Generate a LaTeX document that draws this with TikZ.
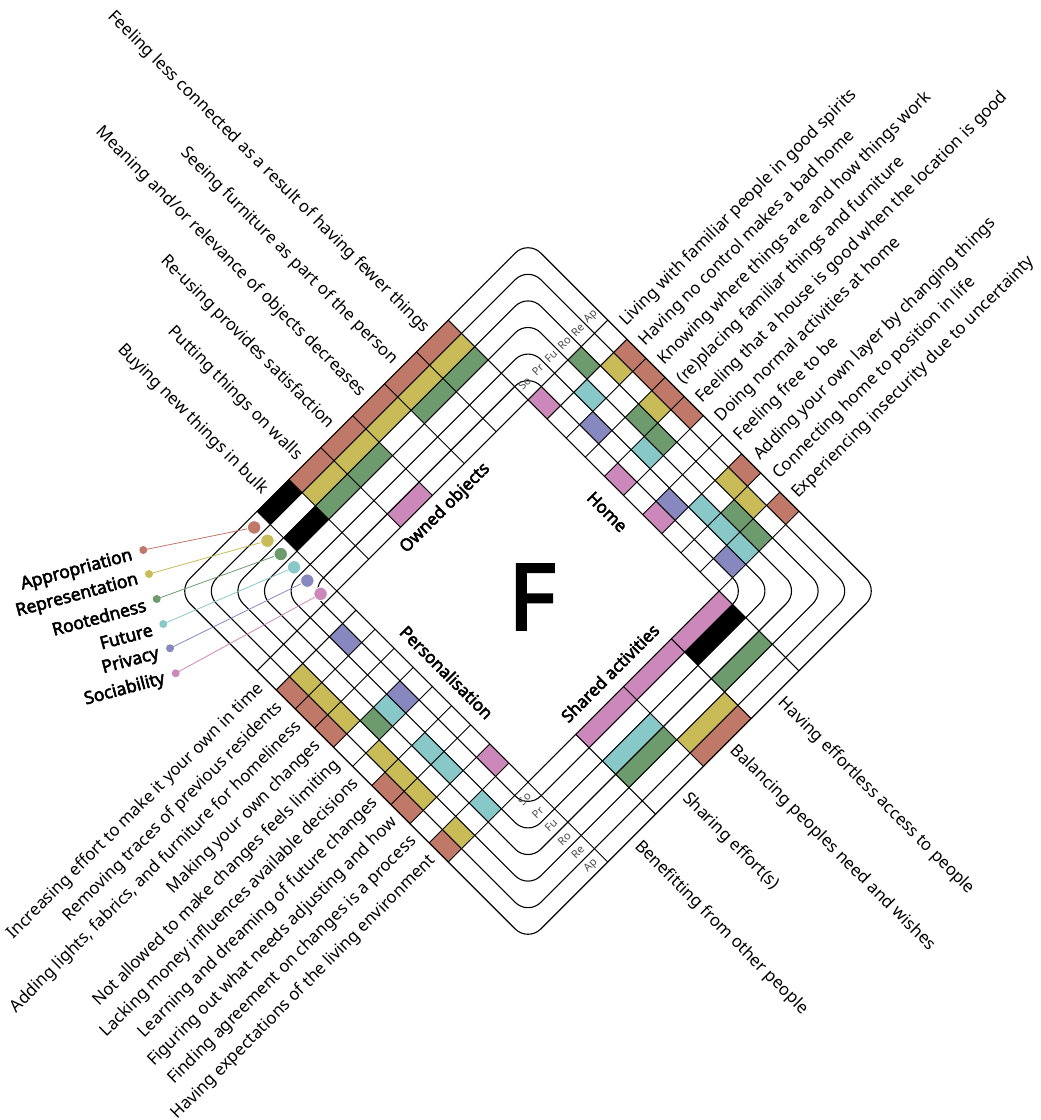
\documentclass[tikz,border=0pt]{standalone}
\usepackage{fontspec}
\setmainfont{Noto Sans}[AutoFakeBold=3]
\definecolor{apc}{HTML}{C07868}
\definecolor{rec}{HTML}{C8BB58}
\definecolor{roc}{HTML}{6E9B6E}
\definecolor{fuc}{HTML}{88C8C8}
\definecolor{prc}{HTML}{8888C0}
\definecolor{soc}{HTML}{CC88BB}
\newcommand\bandvals[1]{%
  \pgfmathsetmacro\rOut{248-18.8*(#1-1)}%
  \pgfmathsetmacro\rIn{248-18.8*#1}}
\newcommand\colvals[2]{%
  \pgfmathsetmacro\cA{-135.2+#2*(#1-1)}%
  \pgfmathsetmacro\cB{-135.2+#2*#1}}
\begin{document}
\begin{tikzpicture}[x=1pt,y=1pt,
  ringline/.style={line width=1.1pt},
  gridline/.style={line width=1pt},
  stmt/.style={font=\fontsize{16.9}{18}\selectfont, inner sep=0pt},
  cat/.style={font=\fontsize{17}{18}\selectfont\bfseries, inner sep=0pt},
  bandlab/.style={font=\fontsize{11}{12}\selectfont, text=black!70, inner sep=0pt, rotate=45},
  legendlab/.style={font=\fontsize{17.5}{19}\selectfont\bfseries, inner sep=0pt, rotate=15, anchor=east},
  bigdot/.style={draw=white, line width=0.8pt},
  legline/.style={line width=0.8pt},
]
\useasboundingbox (0,0) rectangle (1041,-1120);
\begin{scope}[shift={(528,-591)}, x={(0.70711pt,0.70711pt)}, y={(0.70711pt,-0.70711pt)}]
  % ---- Home cells (top right)
  \foreach \k/\j/\c in {1/2/apc,1/3/apc,1/4/apc,1/5/apc,1/8/apc,1/10/apc,
      2/2/rec,2/4/rec,2/8/rec,2/9/rec,
      3/1/roc,3/4/roc,3/5/roc,3/9/roc,3/10/roc,
      4/2/fuc,4/5/fuc,4/8/fuc,4/9/fuc,4/10/fuc,
      5/3/prc,5/7/prc,5/10/prc,
      6/1/soc,6/5/soc,6/7/soc}{
    \bandvals{\k}\colvals{\j}{27.04}
    \fill[\c] (\rIn,\cA) -- (\rOut,\cA) -- (\rOut,\cB) -- (\rIn,\cB) -- cycle;
  }
  % ---- Owned objects cells (top left)
  \foreach \k/\j/\c in {1/1/black,1/2/apc,1/3/apc,1/4/apc,1/5/apc,1/6/apc,
      2/2/rec,2/3/rec,2/4/rec,2/5/rec,2/6/rec,
      3/1/black,3/2/roc,3/3/roc,3/5/roc,3/6/roc,
      6/3/soc}{
    \bandvals{\k}\colvals{\j}{45.0667}
    \fill[\c] (\cA,-\rOut) -- (\cB,-\rOut) -- (\cB,-\rIn) -- (\cA,-\rIn) -- cycle;
  }
  % ---- Shared activities cells (bottom right)
  \foreach \k/\j/\c in {1/3/apc,2/3/rec,3/2/roc,3/4/roc,4/2/fuc,5/4/black,
      6/2/soc,6/3/soc,6/4/soc}{
    \bandvals{\k}\colvals{\j}{67.6}
    \fill[\c] (\cA,\rIn) -- (\cB,\rIn) -- (\cB,\rOut) -- (\cA,\rOut) -- cycle;
  }
  % ---- Personalisation cells (bottom left)
  \foreach \k/\j/\c in {1/2/apc,1/3/apc,1/4/apc,1/7/apc,1/8/apc,1/10/apc,
      2/2/rec,2/3/rec,2/4/rec,2/6/rec,2/7/rec,2/8/rec,2/10/rec,
      3/5/roc,
      4/5/fuc,4/7/fuc,4/8/fuc,4/10/fuc,
      5/2/prc,5/5/prc,
      6/9/soc}{
    \bandvals{\k}\colvals{\j}{27.04}
    \fill[\c] (-\rOut,\cA) -- (-\rIn,\cA) -- (-\rIn,\cB) -- (-\rOut,\cB) -- cycle;
  }
  % ---- grid lines
  \foreach \j in {0,...,10}{
    \pgfmathsetmacro\cc{-135.2+27.04*\j}
    \draw[gridline] (135.2,\cc) -- (248,\cc);
    \draw[gridline] (-248,\cc) -- (-135.2,\cc);
  }
  \foreach \j in {0,...,6}{
    \pgfmathsetmacro\cc{-135.2+45.0667*\j}
    \draw[gridline] (\cc,-248) -- (\cc,-135.2);
  }
  \foreach \j in {0,...,4}{
    \pgfmathsetmacro\cc{-135.2+67.6*\j}
    \draw[gridline] (\cc,135.2) -- (\cc,248);
  }
  % ---- rings
  \foreach \k in {0,...,5}{
    \pgfmathsetmacro\sS{248-18.8*\k}
    \draw[ringline, rounded corners=18pt] (0,-\sS) -- (\sS,-\sS) -- (\sS,\sS) -- (-\sS,\sS) -- (-\sS,-\sS) -- cycle;
  }
  \draw[ringline] (-135.2,-135.2) -- (135.2,-135.2) -- (135.2,135.2) -- (-135.2,135.2) -- cycle;
  % ---- band labels and legend anchors
  \foreach \k/\t in {1/Ap,2/Re,3/Ro,4/Fu,5/Pr,6/So}{
    \pgfmathsetmacro\bc{248-18.8*(\k-0.5)}
    \node[bandlab] (tl\k) at (\bc,-149.5) {\t};
    \node[bandlab] (bl\k) at (-149.5,\bc) {\t};
    \coordinate (bd\k) at (-148.7,-\bc);
  }
  % ---- category labels
  \node[cat, rotate=45] (catO) at (0,-117) {Owned objects};
  \node[cat, rotate=-45] (catH) at (112,0) {Home};
  \node[cat, rotate=45] (catS) at (0,116) {Shared activities};
  \node[cat, rotate=-45] (catP) at (-115,0) {Personalisation};
  % ---- Home statements
  \node[stmt, rotate=45, anchor=west] (h1) at (256,-121.68) {Living with familiar people in good spirits};
  \node[stmt, rotate=45, anchor=west] (h2) at (256,-94.64) {Having no control makes a bad home};
  \node[stmt, rotate=45, anchor=west] (h3) at (256,-67.60) {Knowing where things are and how things work};
  \node[stmt, rotate=45, anchor=west] (h4) at (256,-40.56) {(re)placing familiar things and furniture};
  \node[stmt, rotate=45, anchor=west] (h5) at (256,-13.52) {Feeling that a house is good when the location is good};
  \node[stmt, rotate=45, anchor=west] (h6) at (256,13.52) {Doing normal activities at home};
  \node[stmt, rotate=45, anchor=west] (h7) at (256,40.56) {Feeling free to be};
  \node[stmt, rotate=45, anchor=west] (h8) at (256,67.60) {Adding your own layer by changing things};
  \node[stmt, rotate=45, anchor=west] (h9) at (256,94.64) {Connecting home to position in life};
  \node[stmt, rotate=45, anchor=west] (h10) at (256,121.68) {Experiencing insecurity due to uncertainty};
  % ---- Owned objects statements
  \node[stmt, rotate=-45, anchor=east] (o1) at (-116,-256) {Buying new things in bulk};
  \node[stmt, rotate=-45, anchor=east] (o2) at (-67.6,-256) {Putting things on walls};
  \node[stmt, rotate=-45, anchor=east] (o3) at (-22.53,-256) {Re-using provides satisfaction};
  \node[stmt, rotate=-45, anchor=east] (o4) at (22.53,-256) {Meaning and/or relevance of objects decreases};
  \node[stmt, rotate=-45, anchor=east] (o5) at (67.6,-256) {Seeing furniture as part of the person};
  \node[stmt, rotate=-45, anchor=east] (o6) at (112.67,-256) {Feeling less connected as a result of having fewer things};
  % ---- Shared activities statements
  \node[stmt, rotate=-45, anchor=west] (s1) at (-101.4,256) {Benefitting from other people};
  \node[stmt, rotate=-45, anchor=west] (s2) at (-33.8,256) {Sharing effort(s)};
  \node[stmt, rotate=-45, anchor=west] (s3) at (33.8,256) {Balancing peoples need and wishes};
  \node[stmt, rotate=-45, anchor=west] (s4) at (101.4,256) {Having effortless access to people};
  % ---- Personalisation statements
  \node[stmt, rotate=45, anchor=east] (p1) at (-256,-121.68) {Increasing effort to make it your own in time};
  \node[stmt, rotate=45, anchor=east] (p2) at (-256,-94.64) {Removing traces of previous residents};
  \node[stmt, rotate=45, anchor=east] (p3) at (-256,-67.60) {Adding lights, fabrics, and furniture for homeliness};
  \node[stmt, rotate=45, anchor=east] (p4) at (-256,-40.56) {Making your own changes};
  \node[stmt, rotate=45, anchor=east] (p5) at (-256,-13.52) {Not allowed to make changes feels limiting};
  \node[stmt, rotate=45, anchor=east] (p6) at (-256,13.52) {Lacking money influences available decisions};
  \node[stmt, rotate=45, anchor=east] (p7) at (-256,40.56) {Learning and dreaming of future changes};
  \node[stmt, rotate=45, anchor=east] (p8) at (-256,67.60) {Figuring out what needs adjusting and how};
  \node[stmt, rotate=45, anchor=east] (p9) at (-256,94.64) {Finding agreement on changes is a process};
  \node[stmt, rotate=45, anchor=east] (p10) at (-256,121.68) {Having expectations of the living environment};
\end{scope}
% ---- big F
\node[font=\fontsize{91}{91}\selectfont\bfseries, inner sep=0pt] (bigF) at (532,-597) {F};
% ---- legend
\coordinate (sd1) at (143.3,-550);
\coordinate (sd2) at (149,-574);
\coordinate (sd3) at (156.7,-599);
\coordinate (sd4) at (163.3,-624);
\coordinate (sd5) at (170,-648.3);
\coordinate (sd6) at (175.7,-673.3);
\foreach \k/\c in {1/apc,2/rec,3/roc,4/fuc,5/prc,6/soc}{
  \draw[legline, \c] (sd\k) -- (bd\k);
  \fill[\c] (sd\k) circle (4);
  \filldraw[fill=\c, bigdot] (bd\k) circle (6.7);
}
\node[legendlab] (lg1) at (132.3,-555.5) {Appropriation};
\node[legendlab] (lg2) at (138,-579.5) {Representation};
\node[legendlab] (lg3) at (145.7,-604.5) {Rootedness};
\node[legendlab] (lg4) at (152.3,-629.5) {Future};
\node[legendlab] (lg5) at (159,-653.8) {Privacy};
\node[legendlab] (lg6) at (164.7,-678.8) {Sociability};
\end{tikzpicture}
\end{document}
